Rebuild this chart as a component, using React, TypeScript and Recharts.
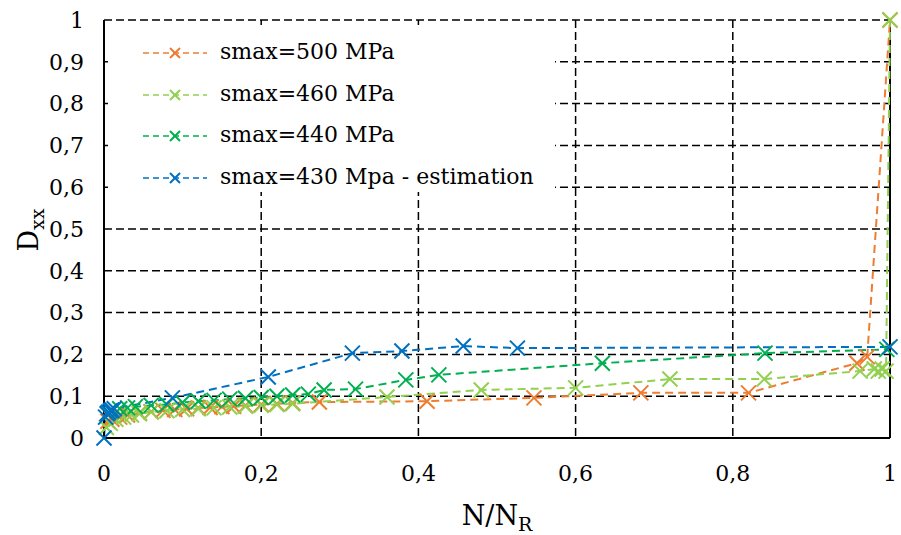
import { LineChart, Line, XAxis, YAxis, CartesianGrid, ReferenceLine } from 'recharts';

// N/N_R values and D_xx values per series
const x500 = [0.005, 0.01, 0.02, 0.03, 0.045, 0.06, 0.075, 0.09, 0.105, 0.12, 0.135, 0.15, 0.165, 0.18, 0.2, 0.22, 0.24, 0.274, 0.411, 0.547, 0.683, 0.82, 0.958, 0.971, 1.0];
const d500 = [0.04, 0.045, 0.05, 0.055, 0.06, 0.063, 0.066, 0.068, 0.07, 0.072, 0.073, 0.075, 0.076, 0.078, 0.08, 0.082, 0.084, 0.086, 0.088, 0.096, 0.108, 0.108, 0.179, 0.194, 1.0];

const x460 = [0.003, 0.008, 0.015, 0.025, 0.035, 0.045, 0.06, 0.08, 0.1, 0.12, 0.14, 0.16, 0.18, 0.2, 0.22, 0.24, 0.36, 0.48, 0.6, 0.72, 0.84, 0.962, 0.98, 0.985, 0.99, 0.995, 1.0];
const d460 = [0.025, 0.035, 0.045, 0.05, 0.055, 0.058, 0.062, 0.065, 0.068, 0.07, 0.072, 0.074, 0.076, 0.078, 0.08, 0.082, 0.098, 0.115, 0.12, 0.141, 0.141, 0.16, 0.165, 0.16, 0.165, 0.16, 1.0];

const x440 = [0.005, 0.01, 0.02, 0.03, 0.04, 0.06, 0.08, 0.1, 0.12, 0.14, 0.16, 0.18, 0.2, 0.22, 0.24, 0.26, 0.28, 0.32, 0.384, 0.426, 0.634, 0.841, 0.996];
const d440 = [0.06, 0.065, 0.07, 0.072, 0.075, 0.078, 0.08, 0.085, 0.088, 0.09, 0.093, 0.095, 0.097, 0.1, 0.103, 0.105, 0.115, 0.117, 0.139, 0.151, 0.179, 0.203, 0.212];

const x430 = [0, 0.002, 0.004, 0.006, 0.008, 0.01, 0.013, 0.087, 0.209, 0.316, 0.379, 0.457, 0.526, 1.0];
const d430 = [0, 0.05, 0.058, 0.062, 0.065, 0.067, 0.07, 0.096, 0.146, 0.203, 0.208, 0.22, 0.215, 0.218];

const xTicks = [0, 0.2, 0.4, 0.6, 0.8, 1];
const yTicks = [0, 0.1, 0.2, 0.3, 0.4, 0.5, 0.6, 0.7, 0.8, 0.9, 1];

const series = [
  { name: 'smax=500 MPa', color: '#ED7D31', xs: x500, ys: d500 },
  { name: 'smax=460 MPa', color: '#92D050', xs: x460, ys: d460 },
  { name: 'smax=440 MPa', color: '#00B050', xs: x440, ys: d440 },
  { name: 'smax=430 Mpa - estimation', color: '#0070C0', xs: x430, ys: d430 },
];

const FONT = 'DejaVu Serif';
const comma = (v: number) => String(v).replace('.', ',');

const Cross = (color: string, s: number) => (props: any) => {
  const { cx, cy, index } = props;
  if (cx == null || cy == null) return <g key={index} />;
  return (
    <path
      key={index}
      d={`M${cx - s},${cy - s}L${cx + s},${cy + s}M${cx + s},${cy - s}L${cx - s},${cy + s}`}
      stroke={color}
      strokeWidth={2}
      fill="none"
    />
  );
};

const App = () => {
  return (
    <div style={{ position: 'absolute', left: 0, top: 0, width: 901, height: 535, background: '#fff', fontFamily: FONT }}>
      <LineChart width={901} height={535} margin={{ top: 20, right: 11, bottom: 7, left: 0 }}>
        <CartesianGrid stroke="#000" strokeDasharray="8 4" strokeWidth={1.5} />
        <XAxis
          type="number"
          dataKey="x"
          domain={[0, 1]}
          ticks={xTicks}
          tickFormatter={comma}
          height={90}
          tickLine={false}
          tickSize={0}
          tickMargin={27}
          axisLine={{ stroke: '#000', strokeWidth: 2 }}
          tick={{ fill: '#000', fontSize: 22, fontFamily: FONT }}
          label={{
            content: () => (
              <text x={497} y={525} textAnchor="middle" fontFamily={FONT} fontSize={27} fill="#000">
                N/N<tspan fontSize={19} dy={6}>R</tspan>
              </text>
            ),
          }}
        />
        <YAxis
          type="number"
          domain={[0, 1]}
          ticks={yTicks}
          tickFormatter={comma}
          width={104}
          tickLine={false}
          tickSize={0}
          tickMargin={20}
          axisLine={{ stroke: '#000', strokeWidth: 2 }}
          tick={{ fill: '#000', fontSize: 22, fontFamily: FONT }}
          label={{
            content: () => (
              <text x={38} y={230} textAnchor="middle" fontFamily={FONT} fontSize={27} fill="#000" transform="rotate(-90 38 230)">
                D<tspan fontSize={19} dy={6}>xx</tspan>
              </text>
            ),
          }}
        />
        <ReferenceLine x={1} stroke="#000" strokeWidth={2} />
        {series.map((s) => (
          <Line
            key={s.name}
            data={s.xs.map((x, i) => ({ x, y: s.ys[i] }))}
            dataKey="y"
            type="linear"
            stroke={s.color}
            strokeWidth={2}
            strokeDasharray="8 5"
            dot={Cross(s.color, 7.5)}
            activeDot={false}
            isAnimationActive={false}
            name={s.name}
          />
        ))}
      </LineChart>
      <div style={{ position: 'absolute', left: 108, top: 25, width: 447, height: 167, background: '#fff' }}>
        {series.map((s, i) => (
          <div key={s.name} style={{ position: 'absolute', left: 0, top: 28 + i * 41.7 - 12, height: 24, width: 447 }}>
            <svg width={70} height={24} style={{ position: 'absolute', left: 33, top: 0 }}>
              <line x1={2} y1={12} x2={66} y2={12} stroke={s.color} strokeWidth={1.5} strokeDasharray="6 4" />
              <path d="M29,7L39,17M39,7L29,17" stroke={s.color} strokeWidth={2} />
            </svg>
            <span style={{ position: 'absolute', left: 112, top: -1, fontSize: 22, lineHeight: '24px', color: '#000', whiteSpace: 'nowrap' }}>
              {s.name}
            </span>
          </div>
        ))}
      </div>
    </div>
  );
};

export default App;
